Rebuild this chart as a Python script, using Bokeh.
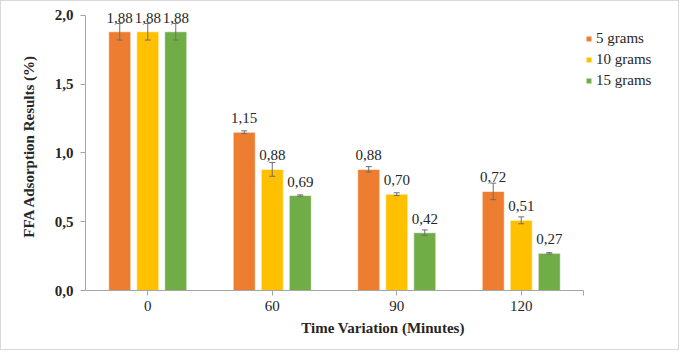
from bokeh.plotting import figure
from bokeh.models import (ColumnDataSource, Range1d, Whisker, TeeHead,
                          Legend, LegendItem, CustomJSTickFormatter, FixedTicker)
from bokeh.embed import file_html
from bokeh.resources import INLINE
from bokeh.core.properties import value

# ---- data ----
times = ["0", "60", "90", "120"]
series_names = ["5 grams", "10 grams", "15 grams"]
g5 = [1.88, 1.15, 0.88, 0.72]
g10 = [1.88, 0.88, 0.70, 0.51]
g15 = [1.88, 0.69, 0.42, 0.27]
sd5 = [0.06, 0.01, 0.02, 0.06]
sd10 = [0.06, 0.05, 0.01, 0.025]
sd15 = [0.06, 0.005, 0.02, 0.005]
y_ticks = [0.0, 0.5, 1.0, 1.5, 2.0]

colors = ["#ED7D31", "#FFC000", "#70AD47"]
offsets = [-0.225, 0.0, 0.225]
FONT = "Liberation Serif"

n = len(times)
centers = [i + 0.5 for i in range(n)]
# frame spans 595 px; category axis occupies the first 498 px of it
x_end = n * 595 / 498

p = figure(x_range=Range1d(0, x_end), y_range=Range1d(0, 2.1),
           width=679, height=350, output_backend="svg", toolbar_location=None, tools="",
           min_border_left=84, min_border_right=0, min_border_top=0, min_border_bottom=61)
p.styles = {"border": "1px solid #d9d9d9"}
p.outline_line_color = None
p.xgrid.grid_line_color = None
p.ygrid.grid_line_color = None
p.background_fill_color = "white"
p.border_fill_color = "white"

items = []
for vals, sds, name, col, off in zip([g5, g10, g15], [sd5, sd10, sd15], series_names, colors, offsets):
    src = ColumnDataSource(dict(
        x=[c + off for c in centers], v=vals,
        up=[a + b for a, b in zip(vals, sds)],
        lo=[a - b for a, b in zip(vals, sds)],
        lab=[("%.2f" % a).replace(".", ",") for a in vals]))
    r = p.vbar(x="x", top="v", width=0.177, source=src,
               fill_color=col, line_color="white", line_alpha=0.6, line_width=1)
    items.append(LegendItem(label=name, renderers=[r]))
    p.text(x="x", y="v", text="lab", source=src,
           text_align="center", text_baseline="alphabetic", y_offset=-14,
           text_font=value(FONT), text_font_size="15px", text_color="#262626")
    w = Whisker(base="x", upper="up", lower="lo", source=src, level="annotation",
                line_color="#6f6f6f", line_width=1,
                upper_head=TeeHead(size=6, line_color="#6f6f6f", line_width=1),
                lower_head=TeeHead(size=6, line_color="#6f6f6f", line_width=1))
    p.add_layout(w)

# axes
p.yaxis.ticker = FixedTicker(ticks=y_ticks)
p.yaxis.bounds = (0, 2)
p.yaxis.formatter = CustomJSTickFormatter(code="return tick.toFixed(1).replace('.', ',');")
p.yaxis.major_label_text_font = FONT
p.yaxis.major_label_text_font_style = "bold"
p.yaxis.major_label_text_font_size = "15px"
p.yaxis.major_label_text_color = "#262626"
p.yaxis.major_label_standoff = 7
p.yaxis.major_tick_out = 5
p.yaxis.major_tick_in = 0
p.yaxis.minor_tick_out = 0
p.yaxis.minor_tick_in = 0
p.yaxis.axis_line_color = "#a6a6a6"
p.yaxis.major_tick_line_color = "#a6a6a6"
p.yaxis.axis_label = "FFA Adsorption Results (%)"
p.yaxis.axis_label_text_font = FONT
p.yaxis.axis_label_text_font_style = "bold"
p.yaxis.axis_label_text_font_size = "15px"
p.yaxis.axis_label_text_color = "#262626"
p.yaxis.axis_label_standoff = 15

p.xaxis.ticker = FixedTicker(ticks=centers + [float(n)])
p.xaxis.bounds = (0, n)
p.xaxis.major_label_overrides = {**{c: t for c, t in zip(centers, times)}, float(n): ""}
p.xaxis.major_label_text_font = FONT
p.xaxis.major_label_text_font_size = "15px"
p.xaxis.major_label_text_color = "#262626"
p.xaxis.major_label_standoff = 5
p.xaxis.major_tick_out = 5
p.xaxis.major_tick_in = 0
p.xaxis.minor_tick_out = 0
p.xaxis.minor_tick_in = 0
p.xaxis.axis_line_color = "#a6a6a6"
p.xaxis.major_tick_line_color = "#a6a6a6"
p.xaxis.axis_label = "Time Variation (Minutes)"
p.xaxis.axis_label_text_font = FONT
p.xaxis.axis_label_text_font_style = "bold"
p.xaxis.axis_label_text_font_size = "15px"
p.xaxis.axis_label_text_color = "#262626"
p.xaxis.axis_label_standoff = 6

legend = Legend(items=items, location=(500, 199), padding=0, margin=0, spacing=0,
                label_height=21, glyph_height=7, glyph_width=7, label_standoff=4,
                label_text_font=FONT, label_text_font_size="15px", label_text_color="#262626",
                border_line_color=None, background_fill_alpha=0)
p.add_layout(legend, "center")

open("out.html", "w").write(file_html(p, INLINE))
